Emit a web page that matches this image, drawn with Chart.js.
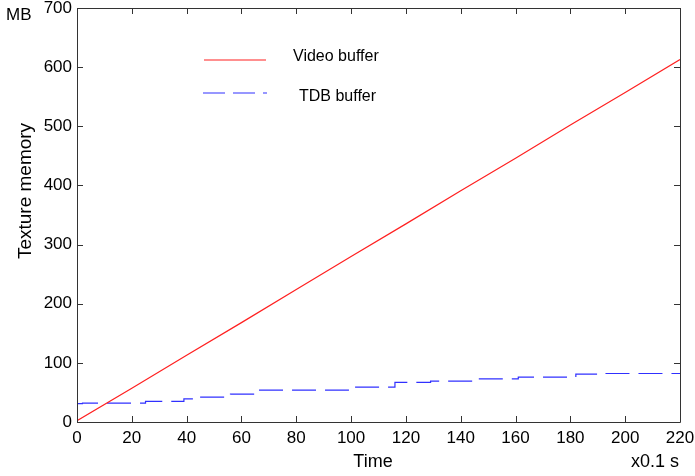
<!DOCTYPE html>
<html>
<head>
<meta charset="utf-8">
<script src="https://cdn.jsdelivr.net/npm/chart.js@4.4.0/dist/chart.umd.min.js"></script>
<style>
  html, body { margin: 0; padding: 0; background: #fff; }
  #wrap { width: 695px; height: 476px; }
</style>
</head>
<body>
<div id="wrap"><canvas id="myChart" width="695" height="476"></canvas></div>
<script>
// data
const videoTime = [0, 20, 40, 60, 80, 100, 120, 140, 160, 180, 200, 220];
const videoMB = [2, 57, 113, 168, 224, 280, 335, 391, 446, 502, 557, 613];

const tdbTime = [0, 2, 25, 39, 44, 56, 66, 99, 116, 129, 145, 161, 182, 192, 220];
const tdbMB = [27, 31, 32, 35, 39, 42, 47, 54, 59, 67, 69, 73, 76, 81, 82];

const xTicks = [0, 20, 40, 60, 80, 100, 120, 140, 160, 180, 200, 220];
const yTicks = [0, 100, 200, 300, 400, 500, 600, 700];

const seriesNames = ['Video buffer', 'TDB buffer'];
const seriesColors = ['#ff2020', '#3030ff'];

function toPoints(xs, ys) {
  return xs.map((x, i) => ({ x: x, y: ys[i] }));
}

const axisColor = '#333';
const fontFam = '"Liberation Sans", Arial, sans-serif';

// box, inward ticks, legend and axis labels
const extras = {
  id: 'extras',
  afterDraw(chart) {
    const c = chart.ctx;
    const a = chart.chartArea;
    const xs = chart.scales.x, ys = chart.scales.y;
    c.save();
    c.strokeStyle = axisColor;
    c.lineWidth = 1;
    c.beginPath();
    c.rect(Math.round(a.left) + 0.5, Math.round(a.top) + 0.5, Math.round(a.right - a.left), Math.round(a.bottom - a.top));
    c.stroke();
    c.beginPath();
    xTicks.forEach(v => {
      const px = Math.round(xs.getPixelForValue(v)) + 0.5;
      c.moveTo(px, a.bottom); c.lineTo(px, a.bottom - 6);
      c.moveTo(px, a.top); c.lineTo(px, a.top + 6);
    });
    yTicks.forEach(v => {
      const py = Math.round(ys.getPixelForValue(v)) + 0.5;
      c.moveTo(a.left, py); c.lineTo(a.left + 6, py);
      c.moveTo(a.right, py); c.lineTo(a.right - 6, py);
    });
    c.stroke();

    // legend
    c.lineWidth = 1.2;
    c.strokeStyle = seriesColors[0];
    c.beginPath(); c.moveTo(204, 60); c.lineTo(266, 60); c.stroke();
    c.strokeStyle = seriesColors[1];
    c.setLineDash([22, 8]);
    c.beginPath(); c.moveTo(203, 93); c.lineTo(267, 93); c.stroke();
    c.setLineDash([]);
    c.fillStyle = '#000';
    c.font = '16px ' + fontFam;
    c.textBaseline = 'middle';
    c.textAlign = 'left';
    c.fillText(seriesNames[0], 293, 57);
    c.fillText(seriesNames[1], 299, 97);

    // axis labels
    c.font = '17px ' + fontFam;
    c.fillText('MB', 6, 15);
    c.textAlign = 'center';
    c.font = '18px ' + fontFam;
    c.fillText('Time', 373, 462);
    c.textAlign = 'right';
    c.fillText('x0.1 s', 679, 462);
    c.translate(26, 191);
    c.rotate(-Math.PI / 2);
    c.textAlign = 'center';
    c.font = '19px ' + fontFam;
    c.fillText('Texture memory', 0, 0);
    c.restore();
  }
};

const ctx = document.getElementById('myChart');

const myChart = new Chart(ctx, {
  type: 'line',
  data: {
    datasets: [{
      label: seriesNames[0],
      data: toPoints(videoTime, videoMB),
      borderColor: seriesColors[0],
      borderWidth: 1.2,
      pointRadius: 0,
      tension: 0
    }, {
      label: seriesNames[1],
      data: toPoints(tdbTime, tdbMB),
      borderColor: seriesColors[1],
      borderWidth: 1.2,
      borderDash: [24, 9],
      pointRadius: 0,
      stepped: 'after'
    }]
  },
  options: {
    responsive: false,
    animation: false,
    layout: { padding: { top: 8, right: 15, left: 0, bottom: 0 } },
    plugins: {
      legend: { display: false },
      tooltip: { enabled: false }
    },
    scales: {
      x: {
        type: 'linear',
        min: 0,
        max: 220,
        afterBuildTicks: s => { s.ticks = xTicks.map(v => ({ value: v })); },
        grid: { display: false, drawTicks: false },
        border: { display: false },
        ticks: { color: '#000', font: { size: 17, family: fontFam }, padding: 6, maxRotation: 0 },
        afterFit: s => { s.height = 54; s.paddingLeft = 0; s.paddingRight = 0; }
      },
      y: {
        min: 0,
        max: 700,
        afterBuildTicks: s => { s.ticks = yTicks.map(v => ({ value: v })); },
        grid: { display: false, drawTicks: false },
        border: { display: false },
        ticks: { color: '#000', font: { size: 17, family: fontFam }, padding: 5 },
        afterFit: s => { s.width = 77; s.paddingTop = 0; s.paddingBottom = 0; }
      }
    }
  },
  plugins: [extras]
});
</script>
</body>
</html>
